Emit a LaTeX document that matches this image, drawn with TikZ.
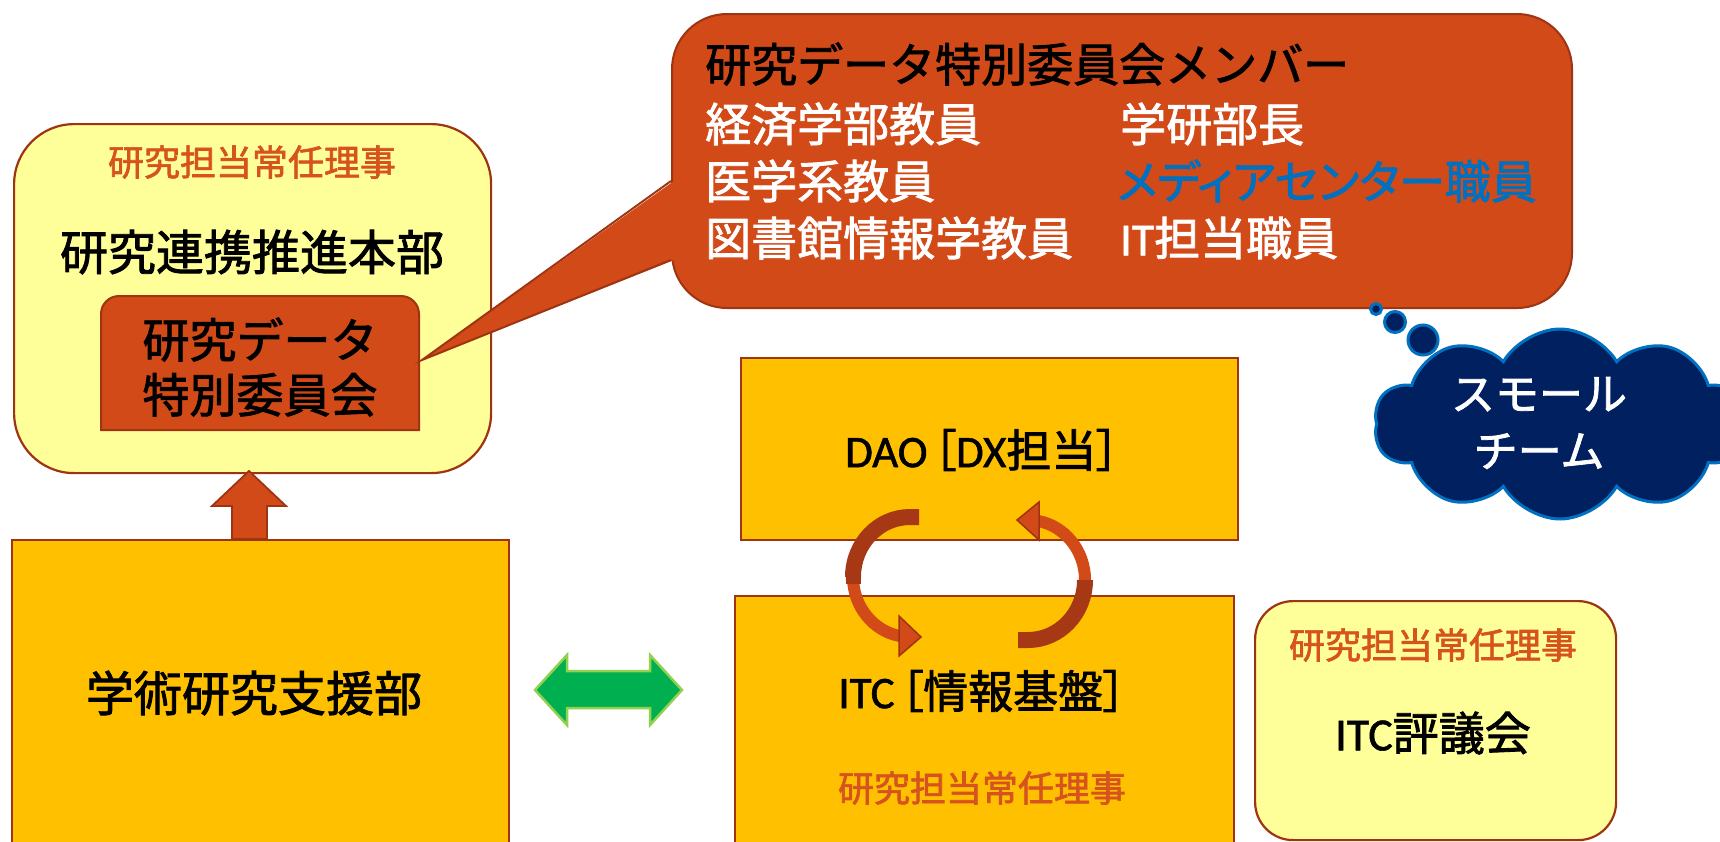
\documentclass[tikz,border=0pt]{standalone}
\usepackage{fontspec}
\setmainfont{Noto Sans CJK JP}[FakeBold=1.8]
\newfontfamily\jpp{Noto Sans CJK JP}[RawFeature=+palt, FakeBold=1.8]
\newfontfamily\lat{Carlito}[FakeBold=1.2]
\usetikzlibrary{shapes.symbols}
\definecolor{gold}{HTML}{FFC000}
\definecolor{lyellow}{HTML}{FFFF99}
\definecolor{bord}{RGB}{158,52,18}
\definecolor{redfill}{RGB}{210,74,24}
\definecolor{otext}{RGB}{214,82,30}
\definecolor{navy}{HTML}{002060}
\definecolor{cblue}{HTML}{0070C0}
\definecolor{gfill}{HTML}{00B050}
\definecolor{gline}{HTML}{92D050}
\definecolor{adark}{RGB}{166,56,22}
\newcommand\fsz[2]{\fontsize{#1}{#2}\selectfont}
\begin{document}
\begin{tikzpicture}[x=1pt,y=-1pt,
  box/.style={draw=bord, line width=2.2pt, fill=gold, inner sep=0pt, anchor=north west},
  ybox/.style={draw=bord, line width=2.2pt, fill=lyellow, inner sep=0pt, anchor=north west, rounded corners=#1},
  role/.style={text=otext, font=\fsz{36}{42}, inner sep=0pt},
  big/.style={text=black, font=\fsz{48}{56}, inner sep=0pt, align=center},
  mid/.style={text=black, font=\fsz{45}{52}\jpp, inner sep=0pt},
  member/.style={font=\fsz{46}{54}, inner sep=0pt, anchor=west},
  blockarrow/.style={fill=redfill, draw=bord, line width=1.8pt, line join=miter},
  bubble/.style={fill=navy, draw=cblue, line width=3pt}
]
\useasboundingbox (0,0) rectangle (1720,841);
\clip (0,0) rectangle (1720,841);
\fill[white] (0,0) rectangle (1720,841);

% left top box
\node[ybox=60, minimum width=477, minimum height=349] (hq) at (13,123) {};
\node[role] (hqrole) at (252,162) {研究担当常任理事};
\node[big] (hqname) at (252,252) {研究連携推進本部};
% committee
\path[fill=redfill, draw=bord, line width=2pt] (101,430) -- (101,314) arc[start angle=180, end angle=270, radius=18] -- (401,296) arc[start angle=270, end angle=360, radius=18] -- (419,430) -- cycle;
\node[big, font=\fsz{47}{55}] (committee) at (260,367) {研究データ\\特別委員会};
\coordinate (tip) at (422,360);

% callout
\node[draw=bord, fill=redfill, line width=2pt, rounded corners=55, minimum width=900, minimum height=294, anchor=north west, inner sep=0pt] (members) at (671,13) {};
\fill[redfill] (674,181) -- (tip) -- (674,260) -- cycle;
\draw[bord, line width=2pt, line join=miter] (671,181) -- (tip) -- (671,260);
\node[member, text=black] (m0) at (705,64) {研究データ特別委員会メンバー};
\node[member, text=white] (m1) at (705,124) {経済学部教員};
\node[member, text=white] (m2) at (1120,124) {学研部長};
\node[member, text=white] (m3) at (705,181) {医学系教員};
\node[member, text=cblue, font=\fsz{46}{54}\jpp] (m4) at (1117,181) {メディアセンター職員};
\node[member, text=white] (m5) at (705,238) {図書館情報学教員};
\node[member, text=white] (m6) at (1120,238) {{\lat IT}担当職員};

% thought bubbles and cloud
\node[bubble, circle, minimum size=11, inner sep=0pt] (b1) at (1376,309) {};
\node[bubble, circle, minimum size=21, inner sep=0pt] (b2) at (1395,322) {};
\node[bubble, circle, minimum size=30, inner sep=0pt] (b3) at (1423,340) {};
\node[bubble, cloud, cloud puffs=10, cloud puff arc=120, aspect=1.9, minimum width=372, minimum height=190, inner sep=0pt] (cloud) at (1560,424) {};
\node[text=white, font=\fsz{44}{57}, align=center, inner sep=0pt] (small) at (1539,423) {スモール\\チーム};

% support box
\node[box, minimum width=497, minimum height=330] (support) at (11,539) {};
\node[big] (supportname) at (254,693) {学術研究支援部};
% up arrow
\draw[blockarrow] (249,471) -- (286,506) -- (267,506) -- (267,539) -- (232,539) -- (232,506) -- (212,506) -- cycle;

% green double arrow
\draw[fill=gfill, draw=gline, line width=2.5pt, line join=miter] (535,690) -- (567,655) -- (567,671) -- (650,671) -- (650,655) -- (682,690) -- (650,725) -- (650,708) -- (567,708) -- (567,725) -- cycle;

% DAO box
\node[box, minimum width=497, minimum height=182] (dao) at (740,357) {};
\node[mid] (daoname) at (982,450) {{\lat DAO}\kern6pt［{\lat DX}担当］};
% ITC box
\node[box, minimum width=499, minimum height=280] (itc) at (734,595) {};
\node[mid] (itcname) at (982,691) {{\lat ITC}\kern6pt［情報基盤］};
\node[role] (itcrole) at (982,788) {研究担当常任理事};

% circular arrows
\draw[adark, line width=16pt] (919,517) -- (910,517) arc[start angle=-90, end angle=-180, x radius=57, y radius=60];
\draw[redfill, line width=12pt] (853,577) arc[start angle=180, end angle=100, x radius=57, y radius=60];
\draw[adark, line width=15pt] (853.5,570) -- (853.5,584);
\filldraw[fill=redfill, draw=bord, line width=1.5pt] (899,616) -- (921,637) -- (899,656) -- cycle;

\draw[adark, line width=16pt] (1018,640) -- (1028,640) arc[start angle=90, end angle=0, x radius=57, y radius=60];
\draw[redfill, line width=12pt] (1085,580) arc[start angle=0, end angle=-80, x radius=57, y radius=60];
\filldraw[fill=redfill, draw=bord, line width=1.5pt] (1039,502) -- (1017,520) -- (1039,540) -- cycle;

% ITC council
\node[ybox=38, minimum width=361, minimum height=239] (council) at (1254,600) {};
\node[role] (councilrole) at (1433,645) {研究担当常任理事};
\node[big, font=\fsz{46}{54}] (councilname) at (1433,733) {{\lat ITC}評議会};
\end{tikzpicture}
\end{document}
